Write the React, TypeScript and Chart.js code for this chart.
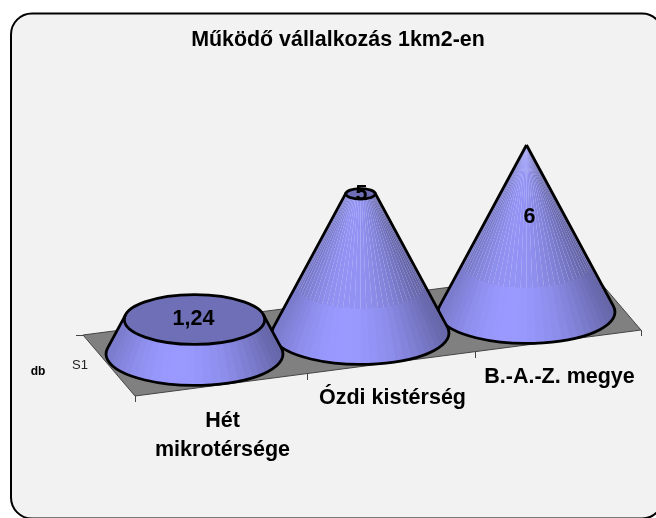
import { useEffect, useRef } from "react";
import { Chart, registerables } from "chart.js";

Chart.register(...registerables);

const chartTitle = "Működő vállalkozás 1km2-en";
const categories = ["Hét mikrotérsége", "Ózdi kistérség", "B.-A.-Z. megye"];
const categoryLines = [["Hét", "mikrotérsége"], ["Ózdi kistérség"], ["B.-A.-Z. megye"]];
const seriesName = "S1";
const axisName = "db";
const seriesValues = [1.24, 5, 6];
const valueLabels = ["1,24", "5", "6"];
const labelHeights = [1.24, 5, 3.4];
const valueMax = 6;

const FONT = '"Liberation Sans", Arial, sans-serif';
const SLOPE = -0.1265;
const ASPECT = 0.355;

function shade(c: number, factor: number) {
  const c0 = -0.25;
  const k = c < c0 ? 0.36 : 0.22;
  const f = (1 - k * (c - c0) * (c - c0)) * factor;
  return `rgb(${Math.round(153 * f)},${Math.round(153 * f)},${Math.round(255 * f)})`;
}

const conePlugin = {
  id: "cones",
  beforeDraw(chart: any) {
    const { ctx } = chart;
    ctx.save();
    ctx.beginPath();
    ctx.roundRect(11, 13.5, 652, 505, 21);
    ctx.fillStyle = "#f2f2f2";
    ctx.fill();
    ctx.lineWidth = 2;
    ctx.strokeStyle = "#000";
    ctx.stroke();
    ctx.restore();
  },
  afterDatasetsDraw(chart: any) {
    const { ctx, scales } = chart;
    const xs = scales.x;
    const ys = scales.y;
    const zero = ys.getPixelForValue(0);
    const midX = xs.getPixelForValue(1);
    const slope = (x: number) => zero + SLOPE * (x - midX);

    // floor
    const along = (xs.right - xs.left) * 1.016;
    const alongY = along * -0.1304;
    const fx = xs.left + 23.5;
    const fy = zero + 63;
    const dx = -52;
    const dy = -61;
    ctx.save();
    ctx.beginPath();
    ctx.moveTo(fx, fy);
    ctx.lineTo(fx + along, fy + alongY);
    ctx.lineTo(fx + along + dx, fy + alongY + dy);
    ctx.lineTo(fx + dx, fy + dy);
    ctx.closePath();
    ctx.fillStyle = "#808080";
    ctx.fill();
    ctx.lineWidth = 1;
    ctx.strokeStyle = "#444";
    ctx.stroke();
    categories.concat("").forEach((_, i) => {
      const u = i / categories.length;
      const x = Math.round(fx + along * u + (i === 1 || i === 2 ? 3 : 0)) + 0.5;
      const y = fy + alongY * u;
      ctx.beginPath();
      ctx.moveTo(x, y);
      ctx.lineTo(x, y + 6);
      ctx.stroke();
    });
    ctx.beginPath();
    ctx.moveTo(fx + dx, fy + dy + 0.5);
    ctx.lineTo(fx + dx - 7, fy + dy + 0.5);
    ctx.stroke();
    ctx.restore();

    // cones, far to near
    const meta = chart.getDatasetMeta(0);
    for (let i = seriesValues.length - 1; i >= 0; i--) {
      const bar = meta.data[i];
      const cx = bar.x;
      const cy = slope(cx);
      const rx = bar.width / 2;
      const ry = rx * ASPECT;
      const H = zero - ys.getPixelForValue(valueMax);
      const t = (zero - bar.y) / H;
      const a = Math.asin(ry / H);
      const start = -a;
      const end = Math.PI + a;
      const pt = (th: number, h: number) => ({
        x: cx + rx * (1 - h) * Math.cos(th),
        y: cy - H * h + ry * (1 - h) * Math.sin(th),
      });
      const facets = (n: number, h0: number, h1: number, overlap: number, factor: number) => {
        for (let k = 0; k < n; k++) {
          const th1 = start + ((end - start) * k) / n;
          const th2 = start + ((end - start) * (k + 1)) / n;
          const p1 = pt(th1, h0);
          const p2 = pt(th2 + overlap, h0);
          const p3 = pt(th2 + overlap, h1);
          const p4 = pt(th1, h1);
          ctx.beginPath();
          ctx.moveTo(p1.x, p1.y);
          ctx.lineTo(p2.x, p2.y);
          ctx.lineTo(p3.x, p3.y);
          ctx.lineTo(p4.x, p4.y);
          ctx.closePath();
          ctx.fillStyle = shade(Math.cos((th1 + th2) / 2), factor);
          ctx.fill();
        }
      };
      const seam = 0.28;
      ctx.save();
      const silhouette = () => {
        const a0 = pt(start, t);
        ctx.beginPath();
        ctx.moveTo(a0.x, a0.y);
        const b0 = pt(start, 0);
        ctx.lineTo(b0.x, b0.y);
        ctx.ellipse(cx, cy, rx, ry, 0, start, end);
        const c0 = pt(end, t);
        ctx.lineTo(c0.x, c0.y);
      };
      silhouette();
      ctx.closePath();
      ctx.fillStyle = "#e8e8ff";
      ctx.fill();
      if (t > seam) facets(38, seam - 0.003, t, 0, 0.96);
      facets(34, 0, Math.min(seam, t), 0.02, 1);
      if (t < 0.995) {
        ctx.beginPath();
        ctx.ellipse(cx, cy - H * t, rx * (1 - t), ry * (1 - t), 0, 0, Math.PI * 2);
        ctx.fillStyle = "#6f6fb7";
        ctx.fill();
        ctx.lineWidth = 2.8;
        ctx.strokeStyle = "#000";
        ctx.stroke();
      }
      silhouette();
      ctx.lineWidth = 2.8;
      ctx.lineJoin = "round";
      ctx.strokeStyle = "#000";
      ctx.stroke();
      ctx.restore();
    }

    // text
    ctx.save();
    ctx.textAlign = "center";
    ctx.textBaseline = "middle";
    ctx.fillStyle = "#000";
    ctx.font = `bold 21.5px ${FONT}`;
    seriesValues.forEach((_, i) => {
      const x = meta.data[i].x;
      ctx.fillText(valueLabels[i], x + (i === 0 ? -1 : i === 2 ? 3 : 1), slope(x) - (zero - ys.getPixelForValue(labelHeights[i])));
    });
    const labelY = [421, 398, 377];
    const labelDx = [28, 32, 33];
    categoryLines.forEach((lines, i) => {
      lines.forEach((line, j) => {
        ctx.fillText(line, meta.data[i].x + labelDx[i], zero + labelY[i] - 333 + j * 29);
      });
    });
    ctx.font = `13px ${FONT}`;
    ctx.fillStyle = "#222";
    ctx.fillText(seriesName, 80, zero + 32);
    ctx.font = `bold 12px ${FONT}`;
    ctx.fillStyle = "#000";
    ctx.fillText(axisName, 38, zero + 39);
    ctx.restore();
  },
};

export default function App() {
  const ref = useRef<HTMLCanvasElement>(null);
  useEffect(() => {
    const chart = new Chart(ref.current!, {
      type: "bar",
      data: {
        labels: categories,
        datasets: [
          {
            label: seriesName,
            data: seriesValues,
            backgroundColor: "rgba(0,0,0,0)",
            borderWidth: 0,
            barPercentage: 1,
            categoryPercentage: 1.066,
          },
        ],
      },
      options: {
        responsive: false,
        animation: false,
        layout: { padding: { left: 66.5, right: 46.5, top: 0, bottom: 185 } },
        plugins: {
          legend: { display: false },
          tooltip: { enabled: false },
          title: {
            display: true,
            text: chartTitle,
            color: "#000",
            font: { family: FONT, size: 21.4, weight: "bold", lineHeight: 1 },
            padding: { top: 29.6, bottom: 115 },
          },
        },
        scales: {
          x: { display: false },
          y: {
            min: 0,
            max: valueMax,
            grid: { display: false },
            border: { display: false },
            ticks: { display: false },
            afterFit: (s: any) => {
              s.width = 45;
            },
          },
        },
      },
      plugins: [conePlugin],
    } as any);
    return () => chart.destroy();
  }, []);
  return (
    <div style={{ position: "absolute", left: 0, top: 0 }}>
      <canvas ref={ref} width={656} height={518} style={{ display: "block" }} />
    </div>
  );
}
